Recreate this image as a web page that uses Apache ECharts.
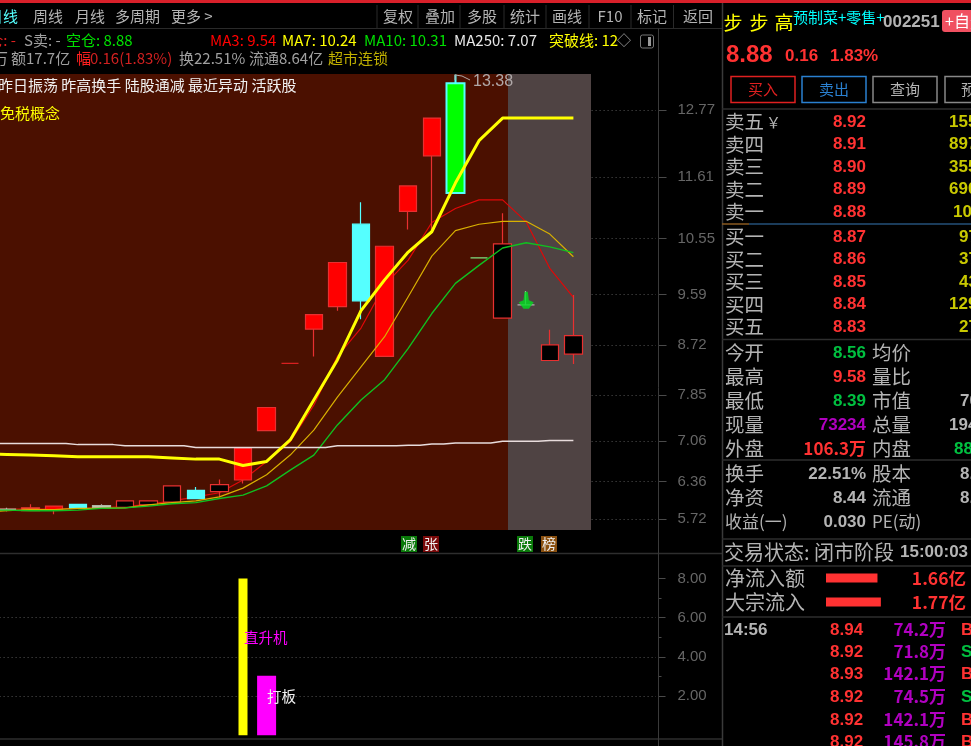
<!DOCTYPE html>
<html>
<head>
<meta charset="utf-8">
<title>步步高 002251</title>
<style>
  html, body { margin: 0; padding: 0; background: #000; overflow: hidden; }
  #main { width: 971px; height: 746px; }
</style>
<script src="https://cdn.jsdelivr.net/npm/echarts@6/dist/echarts.min.js"></script>
</head>
<body>
<div id="main"></div>
<script>
// 日K数据,从图上读的,第一根在窗口左边外面
var days = ['d00','d01','d02','d03','d04','d05','d06','d07','d08','d09','d10','d11','d12','d13','d14','d15','d16','d17','d18','d19','d20','d21','d22','d23','d24','d25','d26','d27','d28'];
var opens  = [5.84,5.87,5.86,5.94,5.97,5.95,5.92,5.96,6.01,6.21,6.19,6.39,7.24,8.40,8.99,9.38,10.80,8.52,11.02,11.98,13.23,10.22,9.18,9.41,8.45,8.56];
var closes = [5.86,5.89,5.91,5.87,5.90,5.91,6.03,6.03,6.29,6.07,6.31,6.94,7.64,8.40,9.24,10.14,9.48,10.42,11.46,12.63,11.34,10.22,10.46,9.41,8.72,8.88];
var lows   = [5.83,5.85,5.86,5.80,5.90,5.91,5.92,5.96,6.01,6.07,6.09,6.33,7.24,8.40,8.52,9.31,9.16,8.52,10.71,10.64,11.34,10.22,9.18,9.41,8.45,8.39];
var highs  = [5.87,5.91,5.97,5.94,5.97,5.97,6.03,6.03,6.29,6.27,6.40,6.94,7.64,8.40,9.24,10.14,11.18,10.42,11.46,12.63,13.38,10.22,10.99,9.65,8.98,9.58];
var candleKinds = ['grey','grey','orange','red','cyan','grey','hollow','hollow','hollow','cyan','hollow','red','red','dash','red','red','cyan','red','red','red','green','greenDash','hollow','greyDash','hollow','hollow'];

var ma3  = [5.88,5.89,5.89,5.89,5.90,5.91,5.93,5.97,6.03,6.10,6.17,6.39,6.71,7.05,7.68,8.52,9.01,9.75,10.18,10.83,11.07,11.22,11.22,10.84,10.04,9.54];
var ma7  = [5.84,5.86,5.88,5.88,5.90,5.90,5.91,5.96,6.00,6.03,6.10,6.25,6.48,6.82,7.25,7.82,8.34,8.86,9.55,10.25,10.69,10.80,10.85,10.85,10.63,10.24];
var ma10 = [5.87,5.87,5.86,5.86,5.87,5.90,5.91,5.94,5.98,6.00,6.07,6.13,6.29,6.56,6.82,7.34,7.77,8.12,8.66,9.26,9.78,10.09,10.39,10.48,10.41,10.31];
var ma250 = [7.02,7.02,7.02,7.02,7.00,7.00,6.98,6.98,6.98,6.95,6.95,6.95,6.95,6.95,6.95,6.98,6.98,6.98,6.99,7.01,7.03,7.03,7.06,7.06,7.07,7.07];
var breakLine = [6.84,6.83,6.82,6.81,6.79,6.79,6.79,6.79,6.77,6.75,6.75,6.64,6.71,7.08,7.77,8.46,9.31,9.84,10.32,10.67,11.51,12.24,12.63,12.63,12.63,12.63];

var buySignal = [['d23', 9.49]];
var priceTicks = [12.77,11.61,10.55,9.59,8.72,7.85,7.06,6.36,5.72];

// 副图
var planeBars = [['d11', 8]];
var boardBars = [['d12', 3.04]];
var subTicks = [2,4,6,8];
var subMinorTicks = [3,5,7];
var subDotTicks = [2,4,6];

// 资金流
var flowNames = ['净流入额','大宗流入'];
var flowValues = [1.66,1.77];

// 盘口
var sellLabels = ['卖五','卖四','卖三','卖二','卖一'];
var sellPrices = ['8.92','8.91','8.90','8.89','8.88'];
var sellVols = ['1559','8973','3559','6906','1037'];
var buyLabels = ['买一','买二','买三','买四','买五'];
var buyPrices = ['8.87','8.86','8.85','8.84','8.83'];
var buyVols = ['97','37','43','1295','27'];

var tickPrices = ['8.94','8.92','8.93','8.92','8.92','8.92'];
var tickVols = ['74.2','71.8','142.1','74.5','142.1','145.8'];
var tickSides = ['B','S','B','S','B','B'];

var CJK = '"Noto Sans CJK SC"';
var NUM = '"Liberation Sans"';
var GREY = '#b4b4b4';
var RED = '#ff3232';

var kindStyles = {
  red:       { fill: '#ff0000', line: '#e83030' },
  hollow:    { fill: '#000000', line: '#e83030' },
  cyan:      { fill: '#55ffff', line: '#55ffff' },
  green:     { fill: '#00ff00', line: '#55ffff' },
  orange:    { fill: '#f07010', line: '#e83030' },
  grey:      { fill: '#c0c8b0', line: '#b0b8a8' },
  dash:      { fill: '#d82020', line: '#d82020' },
  greenDash: { fill: '#80e080', line: '#80e080' },
  greyDash:  { fill: '#b0b0b0', line: '#b0b0b0' }
};

var candleData = opens.map(function (o, i) {
  var s = kindStyles[candleKinds[i]];
  return {
    value: [o, closes[i], lows[i], highs[i]],
    itemStyle: {
      color: s.fill, color0: s.fill, borderColor: s.line, borderColor0: s.line, borderColorDoji: s.line,
      borderWidth: candleKinds[i] === 'green' ? 2 : 1.2
    }
  };
});

function txt(str, x, y, color, size, font, align, weight) {
  return {
    type: 'text', x: x, y: y, z: 10, silent: true,
    style: {
      text: str, fill: color,
      font: (weight || 'normal') + ' ' + size + 'px ' + (font || CJK),
      align: align || 'left', verticalAlign: 'middle'
    }
  };
}
function hline(x1, x2, y, color, w) {
  return { type: 'line', z: 9, silent: true, shape: { x1: x1, y1: y, x2: x2, y2: y }, style: { stroke: color, lineWidth: w || 1 } };
}
function vline(x, y1, y2, color, w) {
  return { type: 'line', z: 9, silent: true, shape: { x1: x, y1: y1, x2: x, y2: y2 }, style: { stroke: color, lineWidth: w || 1 } };
}
function box(x, y, w, h, fill, stroke, r) {
  return { type: 'rect', z: 9, silent: true, shape: { x: x, y: y, width: w, height: h, r: r || 0 }, style: { fill: fill, stroke: stroke || null, lineWidth: 1.5 } };
}

var els = [];
// 主图背景
els.push({ type: 'rect', z: 1, silent: true, shape: { x: 0, y: 74, width: 508, height: 456 }, style: { fill: '#4b1000' } });
els.push({ type: 'rect', z: 1, silent: true, shape: { x: 508, y: 74, width: 83, height: 456 }, style: { fill: '#4f4343' } });

// 顶部
els.push({ type: 'rect', z: 9, silent: true, shape: { x: 0, y: 0, width: 971, height: 3 }, style: { fill: '#d8202a' } });
els.push(hline(0, 722, 28.5, '#2a2a2a'));
[['日线', -12, '#55ffff'], ['周线', 33, GREY], ['月线', 75, GREY], ['多周期', 115, GREY], ['更多 >', 171, GREY]].forEach(function (a) {
  els.push(txt(a[0], a[1], 16, a[2], 15));
});
[377, 418, 460, 504, 546, 589, 631, 673.5].forEach(function (x) { els.push(vline(x, 5, 28, '#2a2a2a')); });
[['复权', 398], ['叠加', 440], ['多股', 482], ['统计', 525], ['画线', 567], ['F10', 610], ['标记', 652], ['返回', 698]].forEach(function (a) {
  els.push(txt(a[0], a[1], 16, GREY, 15, CJK, 'center'));
});

// 指标行
els.push(txt('多仓: -', 16, 40, '#e02020', 15, CJK, 'right'));
els.push(txt('S卖: -', 24, 40, '#a0a0a0', 15));
els.push(txt('空仓: 8.88', 66, 40, '#00e000', 15));
els.push(txt('MA3: 9.54', 210, 40, '#ff0000', 15));
els.push(txt('MA7: 10.24', 282, 40, '#ffff00', 15));
els.push(txt('MA10: 10.31', 364, 40, '#00e000', 15));
els.push(txt('MA250: 7.07', 454, 40, '#e8e8e8', 15));
els.push(txt('突破线: 12', 549, 40, '#ffff00', 15));
els.push(box(615, 32, 16, 16, '#000'));
els.push(txt('◇', 617, 40, '#a0a0a0', 14));
els.push({ type: 'rect', z: 9, silent: true, shape: { x: 640.5, y: 35, width: 13, height: 13, r: 2 }, style: { fill: 'none', stroke: '#777', lineWidth: 1 } });
els.push(box(648, 37, 3, 9, '#999'));

els.push(txt('万', -7, 58, '#a0a0a0', 15));
els.push(txt('额17.7亿', 11, 58, '#a0a0a0', 15));
els.push(txt('幅', 76, 58, '#ff2020', 15));
els.push(txt('0.16(1.83%)', 90, 58, '#d02020', 15));
els.push(txt('换22.51%', 179, 58, '#a0a0a0', 15));
els.push(txt('流通8.64亿', 249, 58, '#a0a0a0', 15));
els.push(txt('超市连锁', 328, 58, '#c0b000', 15));

// 主图文字
els.push(txt('昨日振荡 昨高换手 陆股通减 最近异动 活跃股', -2, 85, '#f0f0f0', 15));
els.push(txt('免税概念', 0, 113, '#ffff00', 15));
els.push(txt('13.38', 473, 82, '#b0a8a8', 16, NUM));
els.push({ type: 'polyline', z: 9, silent: true, shape: { points: [[455, 80], [455, 75], [462, 76], [470, 80]] }, style: { stroke: '#b0a8a8', lineWidth: 1, fill: 'none' } });

// 主图标记
[['减', 409, '#0a7a0a'], ['张', 431, '#7a0a0a'], ['跌', 525, '#0a7a0a'], ['榜', 549, '#8a5010']].forEach(function (a) {
  els.push(box(a[1] - 8, 536, 16, 16, a[2]));
  els.push(txt(a[0], a[1], 544, '#f0f0f0', 14, CJK, 'center'));
});

// 副图文字
els.push(txt('直升机', 244, 637, '#ff00ff', 14.5));
els.push(txt('打板', 267, 696, '#f0f0f0', 14.5));

// 分割线
els.push(hline(0, 722, 553.5, '#2e2e2e', 1.5));
els.push(hline(0, 722, 739, '#2e2e2e', 1.5));
els.push(vline(658.5, 28.5, 746, '#3a3a3a'));
els.push(vline(722.5, 3, 746, '#3a3a3a', 1.5));

// 右侧头部
[['步', 733], ['步', 759], ['高', 784]].forEach(function (a) {
  els.push(txt(a[0], a[1], 23, '#ffff00', 19, CJK, 'center'));
});
els.push(txt('预制菜+零售+', 793, 17, '#00ffff', 15));
els.push(txt('002251', 883, 22, GREY, 17, NUM, 'left', 'bold'));
els.push(box(942, 10, 32, 22, '#f05060', null, 3));
els.push(txt('+自选', 945, 21, '#fff', 16));
els.push(txt('8.88', 726, 55, RED, 24, NUM, 'left', 'bold'));
els.push(txt('0.16', 785, 56, RED, 17, NUM, 'left', 'bold'));
els.push(txt('1.83%', 830, 56, RED, 17, NUM, 'left', 'bold'));

[['买入', 731, '#e02020'], ['卖出', 802, '#2a80d0'], ['查询', 873, '#888']].forEach(function (a) {
  els.push(box(a[1], 76.5, 64, 26, null, a[2]));
  els.push(txt(a[0], a[1] + 32, 89.5, a[2] === '#888' ? GREY : a[2], 15, CJK, 'center'));
});
els.push(box(945, 76.5, 64, 26, null, '#888'));
els.push(txt('预', 961, 89.5, GREY, 15));
els.push(hline(722, 971, 109, '#2e2e2e', 1.5));

// 盘口
var sellY = [122, 144.5, 167, 189.5, 212];
var buyY = [237, 259.5, 282, 304.5, 327];
var yellowVol = '#c8c800';
sellLabels.forEach(function (s, i) {
  els.push(txt(s, 725, sellY[i], GREY, 19.5));
  els.push(txt(sellPrices[i], 866, sellY[i], RED, 17, NUM, 'right', 'bold'));
  els.push(txt(sellVols[i], i === 4 ? 953 : 949, sellY[i], yellowVol, 17, NUM, 'left', 'bold'));
});
els.push(txt('￥', 766, 122, GREY, 15));
els.push(hline(722, 749, 224, '#8a5a20', 1.5));
els.push(hline(749, 971, 224, '#24507a', 1.5));
buyLabels.forEach(function (s, i) {
  els.push(txt(s, 725, buyY[i], GREY, 19.5));
  els.push(txt(buyPrices[i], 866, buyY[i], RED, 17, NUM, 'right', 'bold'));
  els.push(txt(buyVols[i], buyVols[i].length > 2 ? 949 : 959, buyY[i], yellowVol, 17, NUM, 'left', 'bold'));
});
els.push(hline(722, 971, 339.5, '#2e2e2e', 1.5));

// 行情字段
var quoteRows = [
  ['今开', '8.56', '#00c040', 353, '均价', '', GREY, 0],
  ['最高', '9.58', RED, 377, '量比', '', GREY, 0],
  ['最低', '8.39', '#00c040', 401, '市值', '70', GREY, 960],
  ['现量', '73234', '#b000c0', 425, '总量', '194', GREY, 949],
  ['外盘', '106.3万', RED, 449, '内盘', '88', '#00c040', 954],
  ['换手', '22.51%', GREY, 474, '股本', '8.', GREY, 960],
  ['净资', '8.44', GREY, 498, '流通', '8.', GREY, 960],
  ['收益(一)', '0.030', GREY, 522, 'PE(动)', '', GREY, 0]
];
quoteRows.forEach(function (r) {
  els.push(txt(r[0], 725, r[3], GREY, r[0].length > 2 ? 17 : 19.5));
  els.push(txt(r[1], 866, r[3], r[2], 17, r[1].indexOf('万') > 0 ? CJK : NUM, 'right', 'bold'));
  els.push(txt(r[4], 872, r[3], GREY, r[4].length > 2 ? 17 : 19.5));
  if (r[5]) els.push(txt(r[5], r[7], r[3], r[6], 17, NUM, 'left', 'bold'));
});
els.push(hline(722, 971, 460, '#2e2e2e', 1.5));
els.push(hline(722, 971, 539, '#2e2e2e', 1.5));

// 交易状态
els.push(txt('交易状态: 闭市阶段', 724, 552, GREY, 20));
els.push(txt('15:00:03', 900, 552, GREY, 17, NUM, 'left', 'bold'));
els.push(hline(722, 971, 566, '#2e2e2e', 1.5));
flowNames.forEach(function (n, i) {
  var y = 578 + i * 24;
  els.push(txt(n, 725, y, GREY, 20));
  els.push(txt(flowValues[i] + '亿', 966, y, RED, 17.5, CJK, 'right', 'bold'));
});
els.push(hline(722, 971, 617, '#2e2e2e', 1.5));

// 分笔
els.push(txt('14:56', 724, 630, GREY, 17, NUM, 'left', 'bold'));
var tickY = [630, 652, 674, 697, 720, 742];
tickPrices.forEach(function (p, i) {
  els.push(txt(p, 830, tickY[i], RED, 17, NUM, 'left', 'bold'));
  els.push(txt(tickVols[i] + '万', 946, tickY[i], '#b000c0', 17, CJK, 'right', 'bold'));
  els.push(txt(tickSides[i], 961, tickY[i], tickSides[i] === 'B' ? RED : '#00c040', 17, NUM, 'left', 'bold'));
});

var myChart = echarts.init(document.getElementById('main'), null, { renderer: 'canvas' });

var bandLeft = -28.4;
var bandWidth = 684.4;
var axisGap = 2.5;
var dots = { show: true, lineStyle: { color: '#555', type: [1, 3], width: 1 } };
var tickLine = { color: '#4a4a4a' };
var labelStyle = { color: '#666', fontFamily: NUM, fontSize: 15, margin: 19, formatter: function (v) { return v.toFixed(2); } };

var option = {
  animation: false,
  backgroundColor: '#000',
  graphic: { elements: els },
  grid: [
    { left: bandLeft, top: 74, width: bandWidth, height: 456, outerBoundsMode: 'none' },
    { left: bandLeft, top: 555, width: bandWidth, height: 180.3, outerBoundsMode: 'none' },
    { left: 826, top: 566, width: 140, height: 48, outerBoundsMode: 'none' }
  ],
  xAxis: [
    { type: 'category', gridIndex: 0, data: days, show: false },
    { type: 'category', gridIndex: 1, data: days, show: false },
    { type: 'value', gridIndex: 2, min: 0, max: 4.516, show: false },
    // 两根柱子宽度不同,各占一条轴才不会互相挤开
    { type: 'category', gridIndex: 1, data: days, show: false }
  ],
  yAxis: [
    {
      type: 'value', gridIndex: 0, position: 'right', offset: axisGap, min: 5.528, max: 13.39, scale: true,
      axisLine: { show: false },
      axisTick: { show: true, length: 8, lineStyle: tickLine, customValues: priceTicks },
      axisLabel: Object.assign({ customValues: priceTicks }, labelStyle),
      splitLine: dots
    },
    {
      type: 'value', gridIndex: 1, position: 'right', offset: axisGap, min: 0, max: 9.2,
      axisLine: { show: false },
      axisTick: { show: true, length: 7, lineStyle: tickLine, customValues: subTicks },
      axisLabel: Object.assign({ customValues: subTicks }, labelStyle),
      splitLine: { show: false }
    },
    {
      type: 'value', gridIndex: 1, position: 'right', offset: axisGap, min: 0, max: 9.2,
      axisLine: { show: false },
      axisTick: { show: true, length: 3, lineStyle: tickLine, customValues: subMinorTicks },
      axisLabel: { show: false },
      splitLine: { show: false }
    },
    {
      type: 'value', gridIndex: 1, position: 'right', offset: axisGap, min: 0, max: 9.2,
      axisLine: { show: false },
      axisTick: { show: false, customValues: subDotTicks },
      axisLabel: { show: false },
      splitLine: dots
    },
    { type: 'category', gridIndex: 2, data: flowNames, inverse: true, show: false }
  ],
  series: [
    { name: 'MA3', type: 'line', data: ma3, z: 2, symbol: 'none', lineStyle: { color: '#e00808', width: 1.2 } },
    { name: 'K', type: 'candlestick', data: candleData, z: 3, barWidth: 18 },
    { name: 'MA7', type: 'line', data: ma7, z: 4, symbol: 'none', lineStyle: { color: '#d8b000', width: 1.2 } },
    { name: 'MA10', type: 'line', data: ma10, z: 4, symbol: 'none', lineStyle: { color: '#10c020', width: 1.4 } },
    { name: 'MA250', type: 'line', data: ma250, z: 4, step: 'middle', symbol: 'none', lineStyle: { color: '#e8dcdc', width: 1.5 } },
    { name: '突破线', type: 'line', data: breakLine, z: 5, symbol: 'none', lineStyle: { color: '#ffff00', width: 3 } },
    {
      name: '买点', type: 'scatter', data: buySignal, z: 6, symbolSize: [15, 17],
      symbol: 'path://M5.5 0 L8.5 0 L9.5 8 L14 10 L9.5 16 L4.5 16 L0 10 L4.5 8 Z', itemStyle: { color: '#00e020' }
    },
    { name: '直升机', type: 'bar', xAxisIndex: 1, yAxisIndex: 1, data: planeBars, barWidth: 9, itemStyle: { color: '#ffff00' } },
    { name: '打板', type: 'bar', xAxisIndex: 3, yAxisIndex: 1, data: boardBars, barWidth: 19, itemStyle: { color: '#ff00ff' } },
    { name: '资金', type: 'bar', xAxisIndex: 2, yAxisIndex: 4, data: flowValues, barWidth: 9, z: 10, itemStyle: { color: '#ff3232' } }
  ]
};
myChart.setOption(option);
</script>
</body>
</html>
